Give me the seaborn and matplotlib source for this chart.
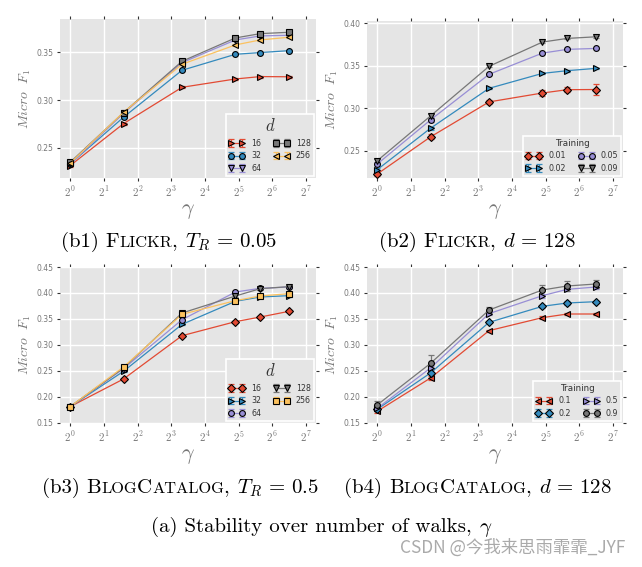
import numpy as np
import pandas as pd
import matplotlib
matplotlib.use("Agg")
import matplotlib.pyplot as plt
import matplotlib.lines as mlines
from matplotlib.legend_handler import HandlerTuple
from matplotlib.ticker import FixedLocator, FuncFormatter
import seaborn as sns

plt.style.use("ggplot")
plt.rcParams["mathtext.fontset"] = "cm"

# ---------------- data ----------------
gamma = [1, 3, 10, 30, 50, 90]

# (b1) Flickr, T_R = 0.05 ; hue = d
b1_labels = ["16", "32", "64", "128", "256"]
b1_16 = [0.2315, 0.2754, 0.3134, 0.3221, 0.3246, 0.3244]
b1_32 = [0.2333, 0.2821, 0.3312, 0.3479, 0.3497, 0.3517]
b1_64 = [0.2330, 0.2862, 0.3392, 0.3629, 0.3671, 0.3678]
b1_128 = [0.2350, 0.2870, 0.3406, 0.3650, 0.3695, 0.3709]
b1_256 = [0.2340, 0.2873, 0.3375, 0.3577, 0.3629, 0.3657]
b1_err = [0.001, 0.001, 0.001, 0.001, 0.001, 0.001]

# (b2) Flickr, d = 128 ; hue = training ratio
b2_labels = ["0.01", "0.02", "0.05", "0.09"]
b2_001 = [0.2226, 0.2664, 0.3076, 0.3181, 0.3220, 0.3222]
b2_002 = [0.2277, 0.2766, 0.3236, 0.3412, 0.3444, 0.3471]
b2_005 = [0.2343, 0.2864, 0.3401, 0.3651, 0.3695, 0.3706]
b2_009 = [0.2382, 0.2911, 0.3495, 0.3781, 0.3824, 0.3843]
b2_err_001 = [0.002, 0.003, 0.002, 0.003, 0.003, 0.006]
b2_err_other = [0.002, 0.002, 0.001, 0.001, 0.001, 0.001]

# (b3) BlogCatalog, T_R = 0.5 ; hue = d
b3_labels = ["16", "32", "64", "128", "256"]
b3_16 = [0.1814, 0.2346, 0.3179, 0.3449, 0.3538, 0.3647]
b3_32 = [0.1814, 0.2494, 0.3397, 0.3840, 0.3923, 0.3949]
b3_64 = [0.1814, 0.2545, 0.3487, 0.4019, 0.4090, 0.4115]
b3_128 = [0.1814, 0.2558, 0.3615, 0.3942, 0.4083, 0.4122]
b3_256 = [0.1814, 0.2577, 0.3590, 0.3853, 0.3942, 0.3987]
b3_err = [0.002, 0.002, 0.002, 0.002, 0.002, 0.002]

# (b4) BlogCatalog, d = 128 ; hue = training ratio
b4_labels = ["0.1", "0.2", "0.5", "0.9"]
b4_01 = [0.1724, 0.2365, 0.3276, 0.3526, 0.3596, 0.3596]
b4_02 = [0.1763, 0.2462, 0.3436, 0.3744, 0.3808, 0.3833]
b4_05 = [0.1780, 0.2558, 0.3603, 0.3949, 0.4071, 0.4115]
b4_09 = [0.1846, 0.2647, 0.3673, 0.4058, 0.4135, 0.4173]
b4_err_01 = [0.003, 0.003, 0.002, 0.003, 0.002, 0.002]
b4_err_02 = [0.002, 0.002, 0.002, 0.003, 0.003, 0.002]
b4_err_05 = [0.003, 0.004, 0.003, 0.004, 0.004, 0.004]
b4_err_09 = [0.007, 0.016, 0.006, 0.010, 0.010, 0.008]

x_ticks = [1, 2, 4, 8, 16, 32, 64, 128]

RED, BLUE, PURPLE, GRAY, YELLOW = "#E24A33", "#348ABD", "#988ED5", "#777777", "#FBC15E"

panels = [
    dict(pos=[0.0935, 0.6861, 0.3988, 0.2804], ylim=(0.2186, 0.3848),
         yticks=[0.25, 0.30, 0.35], labels=b1_labels,
         series=[b1_16, b1_32, b1_64, b1_128, b1_256],
         errs=[b1_err] * 5,
         colors=[RED, BLUE, PURPLE, GRAY, YELLOW],
         markers=[">", "o", "v", "s", "<"],
         title=r"$d$", title_size=12),
    dict(pos=[0.5717, 0.6861, 0.3988, 0.2770], ylim=(0.218, 0.403),
         yticks=[0.25, 0.30, 0.35, 0.40], labels=b2_labels,
         series=[b2_001, b2_002, b2_005, b2_009],
         errs=[b2_err_001, b2_err_other, b2_err_other, b2_err_other],
         colors=[RED, BLUE, PURPLE, GRAY],
         markers=["D", ">", "o", "v"],
         title="Training", title_size=6.3),
    dict(pos=[0.0935, 0.2540, 0.3988, 0.2751], ylim=(0.15, 0.45),
         yticks=[0.15, 0.20, 0.25, 0.30, 0.35, 0.40, 0.45], labels=b3_labels,
         series=[b3_16, b3_32, b3_64, b3_128, b3_256],
         errs=[b3_err] * 5,
         colors=[RED, BLUE, PURPLE, GRAY, YELLOW],
         markers=["D", ">", "o", "v", "s"],
         title=r"$d$", title_size=12),
    dict(pos=[0.5717, 0.2540, 0.3988, 0.2751], ylim=(0.15, 0.45),
         yticks=[0.15, 0.20, 0.25, 0.30, 0.35, 0.40, 0.45], labels=b4_labels,
         series=[b4_01, b4_02, b4_05, b4_09],
         errs=[b4_err_01, b4_err_02, b4_err_05, b4_err_09],
         colors=[RED, BLUE, PURPLE, GRAY],
         markers=["<", "D", ">", "o"],
         title="Training", title_size=6.3),
]

fig = plt.figure(figsize=(6.42, 5.67), dpi=100)
fig.patch.set_facecolor("white")

MS = 4.2
for p in panels:
    ax = fig.add_axes(p["pos"])
    rows = []
    for lab, ys, es in zip(p["labels"], p["series"], p["errs"]):
        for g, v, e in zip(gamma, ys, es):
            rows.append(dict(gamma=g, f1=v, err=e, group=lab))
    df = pd.DataFrame(rows)
    pal = dict(zip(p["labels"], p["colors"]))
    mk = dict(zip(p["labels"], p["markers"]))
    sns.lineplot(data=df, x="gamma", y="f1", hue="group", style="group",
                 hue_order=p["labels"], style_order=p["labels"],
                 palette=pal, markers=mk, dashes=False, errorbar=None,
                 markeredgecolor="black", markeredgewidth=0.8, markersize=MS,
                 linewidth=0.9, legend=False, ax=ax, zorder=3)
    handles = []
    for lab in p["labels"]:
        sub = df[df["group"] == lab]
        ec = ax.errorbar(sub["gamma"], sub["f1"], yerr=sub["err"], fmt="none",
                         ecolor=pal[lab], elinewidth=0.9, capsize=2,
                         capthick=0.9, zorder=2)
        ln = mlines.Line2D([], [], color=pal[lab], marker=mk[lab],
                           markeredgecolor="black", markeredgewidth=0.8,
                           markersize=MS, linewidth=0.9)
        handles.append((ec, ln))
    ax.set_xscale("log", base=2)
    ax.set_xlim(2 ** -0.3, 2 ** 7.3)
    ax.set_ylim(*p["ylim"])
    ax.xaxis.set_major_locator(FixedLocator(x_ticks))
    ax.xaxis.set_minor_locator(FixedLocator([]))
    ax.xaxis.set_major_formatter(FuncFormatter(lambda v, pos: r"$2^{%d}$" % round(np.log2(v))))
    ax.set_yticks(p["yticks"])
    ax.yaxis.set_major_formatter(FuncFormatter(lambda v, pos: "%.2f" % v))
    ax.tick_params(axis="both", which="major", direction="out", length=2.5,
                   width=0.8, color="#333333", labelcolor="#777777",
                   labelsize=5.5, top=True, right=True, pad=2)
    ax.tick_params(axis="x", labelsize=8)
    ax.grid(True, color="white", linewidth=1.0)
    for s in ax.spines.values():
        s.set_visible(False)
    ax.set_xlabel(r"$\gamma$", fontsize=16, color="#777777", labelpad=1)
    ax.set_ylabel(r"$Micro\ \ F_1$", fontsize=10, color="#777777", labelpad=3)
    leg = ax.legend(handles, p["labels"], handler_map={tuple: HandlerTuple(ndivide=1)},
                    loc="lower right", ncol=2, numpoints=2, fontsize=5.7,
                    title=p["title"], title_fontsize=p["title_size"],
                    frameon=True, facecolor="#E5E5E5", edgecolor="white",
                    framealpha=1.0, borderpad=0.4, handlelength=2.0,
                    handletextpad=0.8, columnspacing=1.6, labelspacing=0.45,
                    borderaxespad=0.25, fancybox=False)
    leg.get_frame().set_linewidth(1.2)
    leg.get_title().set_color("#333333")
    for t in leg.get_texts():
        t.set_color("#333333")
    leg.set_zorder(10)


# ---------------- captions with small caps ----------------
def caption(x_center_px, baseline_frac, parts):
    texts = []
    for s, size in parts:
        t = fig.text(0, baseline_frac, s, fontsize=size, family="cmr10",
                     va="baseline", ha="left", color="black")
        texts.append(t)
    return (x_center_px, texts)


BIG, SMALL = 15, 11.8
caps = [
    caption(169, 1 - 247 / 567, [("(b1) ", BIG), ("F", BIG), ("LICKR", SMALL),
                                 (", ", BIG), (r"$T_R\,=\,0.05$", BIG)]),
    caption(477, 1 - 247 / 567, [("(b2) ", BIG), ("F", BIG), ("LICKR", SMALL),
                                 (", ", BIG), (r"$d\,=\,128$", BIG)]),
    caption(180, 1 - 493 / 567, [("(b3) ", BIG), ("B", BIG), ("LOG", SMALL), ("C", BIG),
                                 ("ATALOG", SMALL), (", ", BIG), (r"$T_R\,=\,0.5$", BIG)]),
    caption(478, 1 - 493 / 567, [("(b4) ", BIG), ("B", BIG), ("LOG", SMALL), ("C", BIG),
                                 ("ATALOG", SMALL), (", ", BIG), (r"$d\,=\,128$", BIG)]),
    caption(322, 1 - 532 / 567, [("(a) Stability over number of walks, ", BIG),
                                 (r"$\gamma$", BIG)]),
]

fig.canvas.draw()
renderer = fig.canvas.get_renderer()
W = fig.bbox.width
for xc, texts in caps:
    widths = [t.get_window_extent(renderer).width for t in texts]
    total = sum(widths)
    x = xc - total / 2
    for t, w in zip(texts, widths):
        t.set_x(x / W)
        x += w

fig.text(625 / 642, 1 - 548 / 567, "CSDN @今我来思雨霏霏_JYF", ha="right", va="center",
         fontsize=12.5, color="#AAAAAA", family=["Noto Sans CJK SC", "DejaVu Sans"])

fig.savefig("out.png", dpi=100)
